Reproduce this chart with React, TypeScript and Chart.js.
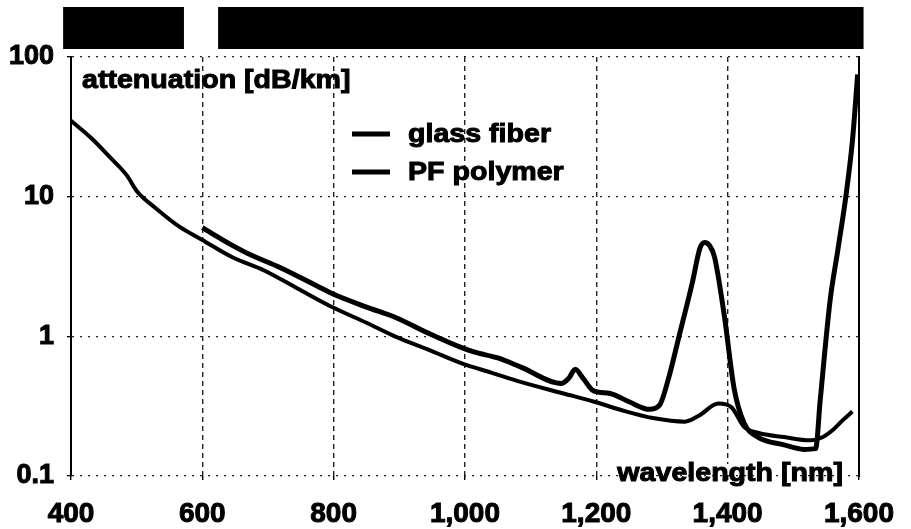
import React, { useEffect, useRef } from 'react';
import { Chart, registerables } from 'chart.js';

Chart.register(...registerables);

// ---- Data ----
const seriesLabels = ['glass fiber', 'PF polymer'];

const glassWavelength = [
  400, 430, 460, 485, 500, 530, 565, 600, 645, 695, 745, 800, 850, 895, 945, 995,
  1040, 1086, 1150, 1197, 1245, 1286, 1335, 1356, 1386, 1406, 1425, 1446, 1486,
  1526, 1545, 1561, 1575, 1590,
];
const glassAttenuation = [
  35, 26.5, 19, 14.2, 11, 8.2, 6.1, 4.9, 3.7, 2.95, 2.2, 1.6, 1.25, 0.99, 0.8, 0.64,
  0.55, 0.47, 0.39, 0.34, 0.29, 0.26, 0.245, 0.27, 0.33, 0.31, 0.225, 0.204, 0.19,
  0.18, 0.19, 0.215, 0.25, 0.29,
];

const polymerWavelength = [
  600, 645, 675, 719, 774, 800, 850, 895, 945, 995, 1015, 1050, 1086, 1147, 1158,
  1168, 1180, 1195, 1221, 1250, 1281, 1296, 1310, 1326, 1346, 1358, 1365, 1372,
  1380, 1395, 1410, 1425, 1446, 1486, 1516, 1534, 1541, 1556, 1568, 1580, 1590, 1598,
];
const polymerAttenuation = [
  6.0, 4.5, 3.8, 3.1, 2.3, 2.0, 1.62, 1.36, 1.05, 0.83, 0.77, 0.7, 0.6, 0.46, 0.5,
  0.58, 0.5, 0.41, 0.39, 0.34, 0.3, 0.32, 0.5, 1.0, 2.4, 4.3, 4.7, 4.5,
  3.7, 1.4, 0.42, 0.24, 0.19, 0.167, 0.155, 0.157, 0.35, 1.8, 4.2, 10, 25, 75,
];

const xTickValues = [400, 600, 800, 1000, 1200, 1400, 1600];
const xTickLabels = ['400', '600', '800', '1,000', '1,200', '1,400', '1,600'];
const yTickValues = [0.1, 1, 10, 100];
const yTickLabels = ['0.1', '1', '10', '100'];

// spectrum band across the top (wavelength ranges)
const spectrumBandStart = [388, 624];
const spectrumBandEnd = [572, 1607];

const yAxisTitle = 'attenuation [dB/km]';
const xAxisTitle = 'wavelength [nm]';

const FONT = '"Liberation Sans", Arial, Helvetica, sans-serif';

function drawStretched(ctx: CanvasRenderingContext2D, text: string, x: number, y: number, sx: number) {
  ctx.save();
  ctx.translate(x, y);
  ctx.scale(sx, 1);
  ctx.lineWidth = 1;
  ctx.strokeStyle = '#000';
  ctx.fillText(text, 0, 0);
  ctx.strokeText(text, 0, 0);
  ctx.restore();
}

const decorPlugin = {
  id: 'decor',
  afterDraw(chart: any) {
    const { ctx, chartArea, scales } = chart;
    const xs = scales.x;
    ctx.save();
    // spectrum bar
    ctx.fillStyle = '#000';
    for (let i = 0; i < spectrumBandStart.length; i++) {
      const x1 = xs.getPixelForValue(spectrumBandStart[i]);
      const x2 = xs.getPixelForValue(spectrumBandEnd[i]);
      ctx.fillRect(x1, 7, x2 - x1, 42);
    }
    // y axis title inside plot
    ctx.fillStyle = '#000';
    ctx.font = `bold 26px ${FONT}`;
    ctx.textAlign = 'left';
    ctx.textBaseline = 'alphabetic';
    drawStretched(ctx, yAxisTitle, chartArea.left + 11, chartArea.top + 31, 1.1);

    // x axis title at bottom right, with white backing
    ctx.font = `bold 26px ${FONT}`;
    const w = ctx.measureText(xAxisTitle).width * 1.1;
    const right = chartArea.right - 16;
    ctx.fillStyle = '#fff';
    ctx.fillRect(right - w - 2, chartArea.bottom - 12, w + 4, 11);
    ctx.fillStyle = '#000';
    drawStretched(ctx, xAxisTitle, right - w, chartArea.bottom + 5, 1.1);

    // legend
    const legendY = [134, 172];
    chart.data.datasets.forEach((ds: any, i: number) => {
      ctx.strokeStyle = '#000';
      ctx.lineWidth = 5;
      ctx.beginPath();
      ctx.moveTo(352, legendY[i]);
      ctx.lineTo(390, legendY[i]);
      ctx.stroke();
      ctx.fillStyle = '#000';
      ctx.font = `bold 26px ${FONT}`;
      ctx.textBaseline = 'middle';
      drawStretched(ctx, ds.label, 408, legendY[i] + 1, 1.1);
    });
    ctx.restore();
  },
};

export default function App() {
  const canvasRef = useRef<HTMLCanvasElement | null>(null);

  useEffect(() => {
    document.body.style.margin = '0';
    const canvas = canvasRef.current;
    if (!canvas) return;
    const chart = new Chart(canvas, {
      type: 'line',
      data: {
        datasets: [
          {
            label: seriesLabels[0],
            data: glassWavelength.map((x, i) => ({ x, y: glassAttenuation[i] })),
            borderColor: '#000',
            borderWidth: 4,
            pointRadius: 0,
            cubicInterpolationMode: 'monotone',
            fill: false,
          },
          {
            label: seriesLabels[1],
            data: polymerWavelength.map((x, i) => ({ x, y: polymerAttenuation[i] })),
            borderColor: '#000',
            borderWidth: 5,
            pointRadius: 0,
            cubicInterpolationMode: 'monotone',
            fill: false,
          },
        ],
      },
      options: {
        responsive: false,
        animation: false,
        layout: { padding: { top: 57, right: 42, left: 0, bottom: 0 } },
        plugins: {
          legend: { display: false },
          title: { display: false },
          tooltip: { enabled: false },
        },
        scales: {
          x: {
            type: 'linear',
            min: 400,
            max: 1600,
            afterBuildTicks: (s: any) => {
              s.ticks = xTickValues.map((v) => ({ value: v }));
            },
            afterFit: (s: any) => {
              s.height = 53;
            },
            ticks: {
              autoSkip: false,
              maxRotation: 0,
              padding: 17,
              color: '#000',
              textStrokeColor: '#000',
              textStrokeWidth: 1,
              font: { family: FONT, size: 28, weight: 'bold' },
              callback: (_v: any, i: number) => xTickLabels[i],
            },
            grid: {
              color: '#222',
              lineWidth: 1.4,
              tickLength: 4,
              tickColor: '#000',
            },
            border: { display: false, dash: [5, 4] },
          },
          y: {
            type: 'logarithmic',
            min: 0.1,
            max: 100,
            afterBuildTicks: (s: any) => {
              s.ticks = yTickValues.map((v) => ({ value: v }));
            },
            afterFit: (s: any) => {
              s.width = 71;
            },
            ticks: {
              autoSkip: false,
              padding: 13,
              color: '#000',
              textStrokeColor: '#000',
              textStrokeWidth: 1,
              font: { family: FONT, size: 27, weight: 'bold' },
              callback: (_v: any, i: number) => yTickLabels[i],
            },
            grid: {
              color: '#222',
              lineWidth: 1.3,
              tickLength: 4,
              tickColor: '#000',
            },
            border: { display: true, color: '#000', width: 2, dash: [2, 6] },
          },
          yRight: {
            type: 'linear',
            position: 'right',
            min: 0,
            max: 1,
            afterFit: (s: any) => {
              s.width = 0;
            },
            ticks: { display: false },
            grid: { display: false, drawTicks: false },
            border: { display: true, color: '#000', width: 2 },
          },
        },
      } as any,
      plugins: [decorPlugin],
    });
    return () => chart.destroy();
  }, []);

  return (
    <div style={{ width: 911, height: 529 }}>
      <canvas ref={canvasRef} width={911} height={529} style={{ display: 'block' }} />
    </div>
  );
}
